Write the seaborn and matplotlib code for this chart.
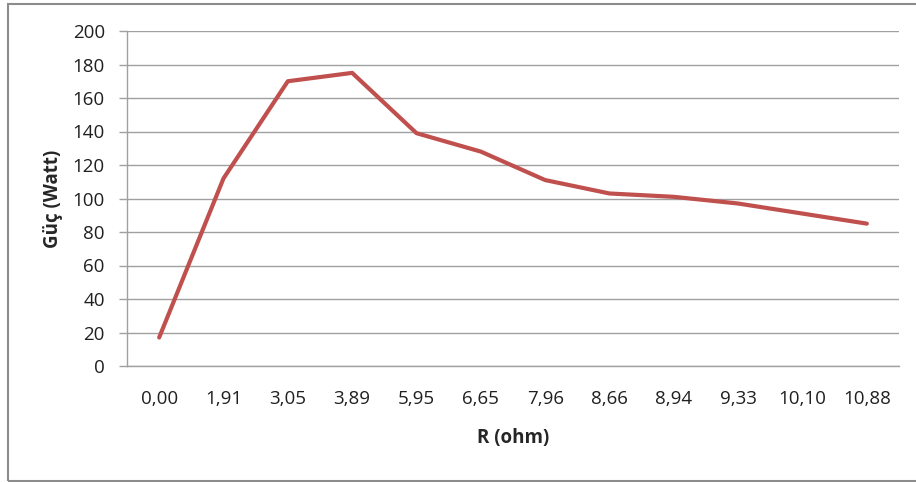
import matplotlib
matplotlib.use("Agg")
import matplotlib.pyplot as plt
import seaborn as sns
import pandas as pd
from matplotlib.patches import Rectangle

categories = ["0,00", "1,91", "3,05", "3,89", "5,95", "6,65", "7,96", "8,66", "8,94", "9,33", "10,10", "10,88"]
power = [17, 112, 170, 175, 139, 128, 111, 103, 101, 97, 91, 85]
yticks = [0, 20, 40, 60, 80, 100, 120, 140, 160, 180, 200]

sns.set_theme(style="white")
plt.rcParams['font.family'] = ['Open Sans', 'DejaVu Sans']

df = pd.DataFrame({"R": categories, "P": power, "i": range(len(categories))})

fig = plt.figure(figsize=(9.16, 4.82), dpi=100)
ax = fig.add_axes([127/916, 1-366/482, (899-127)/916, (366-31)/482])

sns.lineplot(data=df, x="i", y="P", ax=ax, color="#c0504d", linewidth=3.0, sort=False)

ax.set_xlim(-0.5, len(categories) - 0.5)
ax.set_ylim(0, 200)
ax.set_yticks(yticks)
ax.set_yticklabels([str(v) for v in yticks], fontsize=13.5, color="#202020")
ax.set_xticks(range(len(categories)))
ax.set_xticklabels(categories, fontsize=13.5, color="#202020")
ax.tick_params(axis="x", length=0, pad=17)
ax.tick_params(axis="y", length=6, width=1, color="#a0a0a0", pad=10, direction="out", left=True)
ax.yaxis.grid(True, color="#a0a0a0", linewidth=1)
ax.set_axisbelow(True)
for s in ["top", "right"]:
    ax.spines[s].set_visible(False)
ax.spines["left"].set_color("#a0a0a0")
ax.spines["bottom"].set_color("#a0a0a0")
ax.spines["left"].set_linewidth(1)
ax.spines["bottom"].set_linewidth(1)

ax.set_xlabel("R (ohm)", fontsize=13.5, fontweight="bold", labelpad=15)
ax.set_ylabel("Güç (Watt)", fontsize=13.5, fontweight="bold", labelpad=7)

fig.patches.append(Rectangle((8/916, 1-481/482), 1.0, (481-4)/482, transform=fig.transFigure,
                             fill=False, edgecolor="#8c8c8c", linewidth=1.5))

fig.savefig("out.png", dpi=100)
